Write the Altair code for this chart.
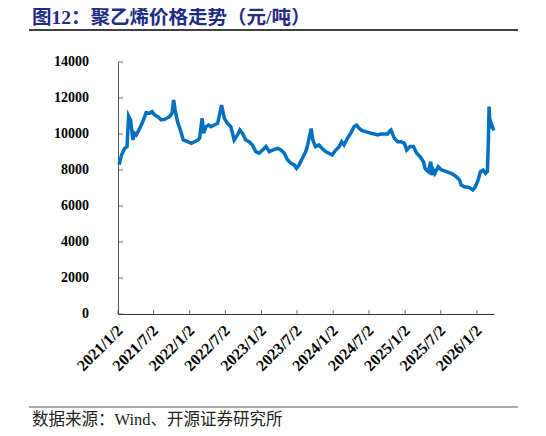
import altair as alt
import pandas as pd

# 聚乙烯价格（元/吨），从图上读取的近似值
dates = [
    "2021-01-08", "2021-01-20", "2021-02-05", "2021-02-17", "2021-02-25", "2021-03-07",
    "2021-03-19", "2021-03-27", "2021-04-05", "2021-04-22", "2021-05-08", "2021-05-25",
    "2021-06-11", "2021-06-24", "2021-07-07", "2021-07-24", "2021-08-10", "2021-08-27",
    "2021-09-21", "2021-10-04", "2021-10-12", "2021-10-20", "2021-11-01", "2021-11-18",
    "2021-11-30", "2021-12-22", "2022-01-10", "2022-01-27", "2022-02-13", "2022-02-21",
    "2022-03-06", "2022-03-14", "2022-03-26", "2022-04-08", "2022-04-20", "2022-05-07",
    "2022-05-24", "2022-06-13", "2022-06-27", "2022-07-13", "2022-07-30", "2022-08-16",
    "2022-09-02", "2022-09-14", "2022-09-27", "2022-10-14", "2022-10-31", "2022-11-17",
    "2022-12-04", "2022-12-21", "2023-01-08", "2023-01-25", "2023-02-11", "2023-02-28",
    "2023-03-25", "2023-04-11", "2023-04-28", "2023-05-15", "2023-06-01", "2023-06-18",
    "2023-06-29", "2023-07-12", "2023-07-29", "2023-08-15", "2023-08-23", "2023-09-12",
    "2023-09-20", "2023-10-04", "2023-10-21", "2023-11-07", "2023-11-24", "2023-12-11",
    "2023-12-28", "2024-01-15", "2024-02-01", "2024-02-14", "2024-02-26", "2024-03-14",
    "2024-03-31", "2024-04-17", "2024-04-30", "2024-05-12", "2024-05-29", "2024-06-15",
    "2024-07-12", "2024-07-29", "2024-08-15", "2024-09-01", "2024-09-18", "2024-10-05",
    "2024-10-17", "2024-10-22", "2024-11-08", "2024-11-25", "2024-12-12", "2024-12-29",
    "2025-01-10", "2025-01-27", "2025-02-13", "2025-03-02", "2025-03-19", "2025-04-05",
    "2025-04-13", "2025-04-30", "2025-05-12", "2025-05-17", "2025-05-25", "2025-06-02",
    "2025-06-19", "2025-07-06", "2025-07-31", "2025-08-25", "2025-09-19", "2025-10-06",
    "2025-10-14", "2025-10-31", "2025-11-25", "2025-12-12", "2025-12-25", "2026-01-08",
    "2026-01-20", "2026-02-02", "2026-02-15", "2026-02-24", "2026-03-01", "2026-03-05",
    "2026-03-10", "2026-03-16", "2026-03-25", "2026-03-30",
]
prices = [
    8300, 8830, 9200, 9300, 11000, 10780,
    9670, 10040, 9950, 10300, 10680, 11180,
    11150, 11240, 11060, 10960, 10780, 10810,
    10960, 11150, 11890, 11330, 10680, 10130,
    9670, 9570, 9480, 9570, 9670, 9760,
    10870, 10040, 10410, 10500, 10410, 10500,
    10590, 11610, 10870, 10590, 10410, 9670,
    9950, 10220, 10040, 9670, 9570, 9390,
    9020, 8930, 9110, 9300, 9020, 9110,
    9200, 9110, 8930, 8560, 8370, 8280,
    8100, 8280, 8650, 9020, 9300, 10300,
    9670, 9300, 9390, 9200, 9020, 8930,
    8830, 9110, 9300, 9570, 9390, 9760,
    10040, 10410, 10500, 10320, 10180, 10130,
    10040, 10000, 9950, 10000, 10000, 10000,
    10180, 10220, 9760, 9570, 9570, 9480,
    9110, 9300, 9300, 8930, 8740, 8460,
    8090, 7910, 8460, 7720, 8000, 7810,
    8180, 8000, 7910, 7810, 7630, 7440,
    7170, 7070, 7020, 6890, 7070, 7440,
    7910, 8000, 7810, 7910, 9390, 11520,
    10320, 10590, 10320, 10200,
]

tick_dates = [
    (2021, 1), (2021, 7), (2022, 1), (2022, 7), (2023, 1), (2023, 7),
    (2024, 1), (2024, 7), (2025, 1), (2025, 7), (2026, 1),
]
y_ticks = [0, 2000, 4000, 6000, 8000, 10000, 12000, 14000]

title_text = "图12：聚乙烯价格走势（元/吨）"
source_text = "数据来源：Wind、开源证券研究所"

serif = "Liberation Serif, Noto Sans CJK SC"

df = pd.DataFrame({"date": [d + "T00:00:00" for d in dates], "price": prices})
tick_df = pd.DataFrame({"date": [f"{y}-{m:02d}-02T00:00:00" for y, m in tick_dates]})
ytick_df = pd.DataFrame({"v": y_ticks, "label": [str(v) for v in y_ticks]})

x_scale = alt.Scale(domain=[alt.DateTime(year=2021, month=1, date=2),
                            alt.DateTime(year=2026, month=3, date=30)])
y_scale = alt.Scale(domain=[0, 14000])

# 两个轴对象在所有图层里共用
x_axis = alt.Axis(values=[alt.DateTime(year=y, month=m, date=2) for y, m in tick_dates],
                  format="%Y/%-m/%-d", labelAngle=-45, labelFont="Liberation Serif",
                  labelFontWeight="bold", labelFontSize=16, labelColor="black",
                  labelPadding=8, labelOffset=-4, ticks=False,
                  domainColor="#333333", grid=False, labelOverlap=False, title=None)
y_axis = alt.Axis(values=y_ticks, labels=False, ticks=False,
                  domainColor="#555555", grid=False, title=None)

line = alt.Chart(df).mark_line(color="#0070C0", strokeWidth=3.5).encode(
    x=alt.X("date:T", scale=x_scale, axis=x_axis),
    y=alt.Y("price:Q", scale=y_scale, axis=y_axis),
)

xticks = alt.Chart(tick_df).mark_tick(orient="vertical", size=4, thickness=1, color="#333333").encode(
    x=alt.X("date:T", scale=x_scale, axis=x_axis), y=alt.value(250)
)
yticks = alt.Chart(ytick_df).mark_tick(orient="horizontal", size=5, thickness=1, color="#333333").encode(
    y=alt.Y("v:Q", scale=y_scale, axis=y_axis), x=alt.value(2.5)
)
# 纵轴刻度标签（与轴线保持约 29px 的距离）
ylabels = alt.Chart(ytick_df).mark_text(align="right", baseline="middle", font="Liberation Serif",
                                        fontSize=14, fontWeight="bold", color="black").encode(
    y=alt.Y("v:Q", scale=y_scale, axis=y_axis), x=alt.value(-29), text="label:N"
)

one = pd.DataFrame({"k": [0]})
title = alt.Chart(one).mark_text(align="left", baseline="middle", font=serif, fontSize=19.5,
                                 fontWeight="bold", color="#1F2D86").encode(
    x=alt.value(-86), y=alt.value(-44), text=alt.value(title_text)
)
title_rule = alt.Chart(one).mark_rule(color="black", strokeWidth=1.3).encode(
    x=alt.value(-89), x2=alt.value(400), y=alt.value(-32)
)
foot_rule = alt.Chart(one).mark_rule(color="#555555", strokeWidth=1).encode(
    x=alt.value(-89), x2=alt.value(400), y=alt.value(345)
)
foot = alt.Chart(one).mark_text(align="left", baseline="middle", font=serif, fontSize=16.5,
                                color="#222222").encode(
    x=alt.value(-86), y=alt.value(357.5), text=alt.value(source_text)
)

chart = alt.layer(line, xticks, yticks, ylabels, title, title_rule, foot_rule, foot).properties(
    width=376, height=252,
    autosize=alt.AutoSizeParams(type="none"),
    padding={"left": 110, "top": 54, "right": 44, "bottom": 114},
).configure_view(stroke=None)

chart.save("out.html", embed_options={"renderer": "svg", "actions": False})
